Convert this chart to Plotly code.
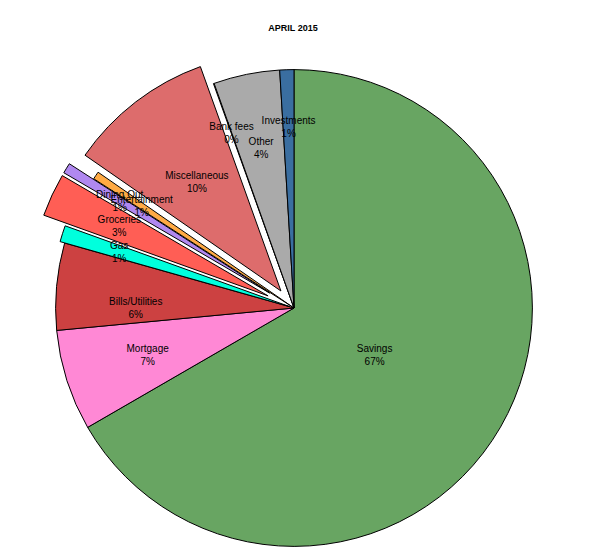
import plotly.graph_objects as go

# April 2015 budget breakdown (amounts in dollars)
labels = ["Savings", "Mortgage", "Bills/Utilities", "Gas", "Groceries",
          "Dining Out", "Entertainment", "Miscellaneous", "Bank fees",
          "Other", "Investments"]
amounts = [6620, 680, 585, 110, 290, 70, 52, 980, 5, 445, 95]
pulls = [0, 0, 0, 0.02, 0.12, 0.12, 0, 0.09, 0, 0, 0]

COLORS = ["#68A562", "#FF88D5", "#CC4141", "#00FFDD", "#FF5E55",
          "#B088F0", "#FFAA44", "#DD6C6C", "#DDDDDD", "#AAAAAA", "#3A6EA0"]
FONT = "Liberation Sans, Arial, sans-serif"

H = 567

# the coloured wedges
pie = go.Pie(
    labels=labels,
    values=amounts,
    pull=pulls,
    sort=False,
    direction="clockwise",
    rotation=0,
    marker={"colors": COLORS, "line": {"color": "black", "width": 1}},
    textinfo="none",
    hoverinfo="label+percent",
    showlegend=False,
)

# same data again, smaller and see-through, only to carry the labels
# closer to the middle like in the original
labels_pie = go.Pie(
    labels=labels,
    values=amounts,
    pull=pulls,
    sort=False,
    direction="clockwise",
    rotation=0,
    domain={"x": [0.5 - 0.3645, 0.5 + 0.3645], "y": [0.5 - 0.3904, 0.5 + 0.3904]},
    marker={"colors": ["rgba(0,0,0,0)"] * len(labels), "line": {"width": 0}},
    texttemplate="%{label}<br>%{percent:.0%}",
    textposition="inside",
    insidetextorientation="horizontal",
    textfont={"family": FONT, "size": 10, "color": "black"},
    hoverinfo="skip",
    showlegend=False,
)

fig = go.Figure(data=[pie, labels_pie])
fig.update_layout(
    width=607,
    height=H,
    margin={"l": 0, "r": 35, "t": 33, "b": 0},
    title={"text": "<b>APRIL 2015</b>", "x": 285 / 607, "xanchor": "center",
           "y": 1 - 20 / H, "yanchor": "middle",
           "font": {"family": FONT, "size": 9, "color": "black"}},
    uniformtext={"minsize": 10, "mode": "show"},
    paper_bgcolor="white",
)
fig.write_html("out.html")
